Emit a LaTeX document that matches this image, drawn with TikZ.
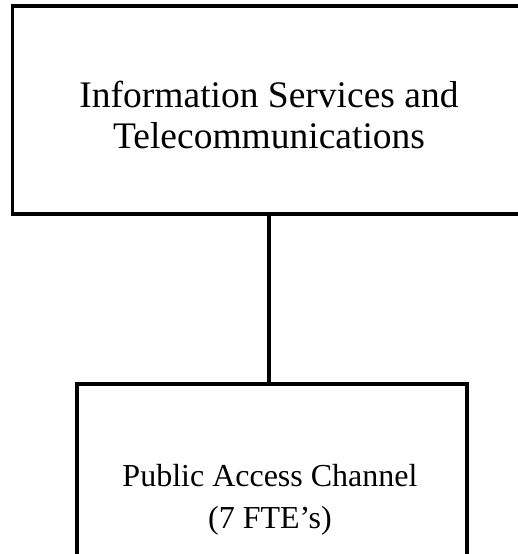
\documentclass[tikz,border=0pt]{standalone}
\usepackage{fontspec}
\setmainfont{Liberation Serif}
\begin{document}
\begin{tikzpicture}[x=1pt,y=-1pt,
  box/.style={draw=black, line width=3.2pt, inner sep=0pt},
  label/.style={align=center, inner sep=0pt},
  link/.style={draw=black, line width=3.2pt}]
\useasboundingbox (0,0) rectangle (517,554);
\node[box, minimum width=513pt, minimum height=208pt] (top) at (269,110) {};
\node[label, font=\fontsize{37.5}{41}\selectfont] (toptext) at (269,115)
  {Information Services and\\Telecommunications};
\node[box, minimum width=390pt, minimum height=236pt] (bot) at (272,502) {};
\node[label, font=\fontsize{32}{42}\selectfont] (bottext) at (270,500)
  {Public Access Channel\\(7 FTE’s)};
\draw[link] (top.south) -- (top.south |- bot.north);
\end{tikzpicture}
\end{document}
